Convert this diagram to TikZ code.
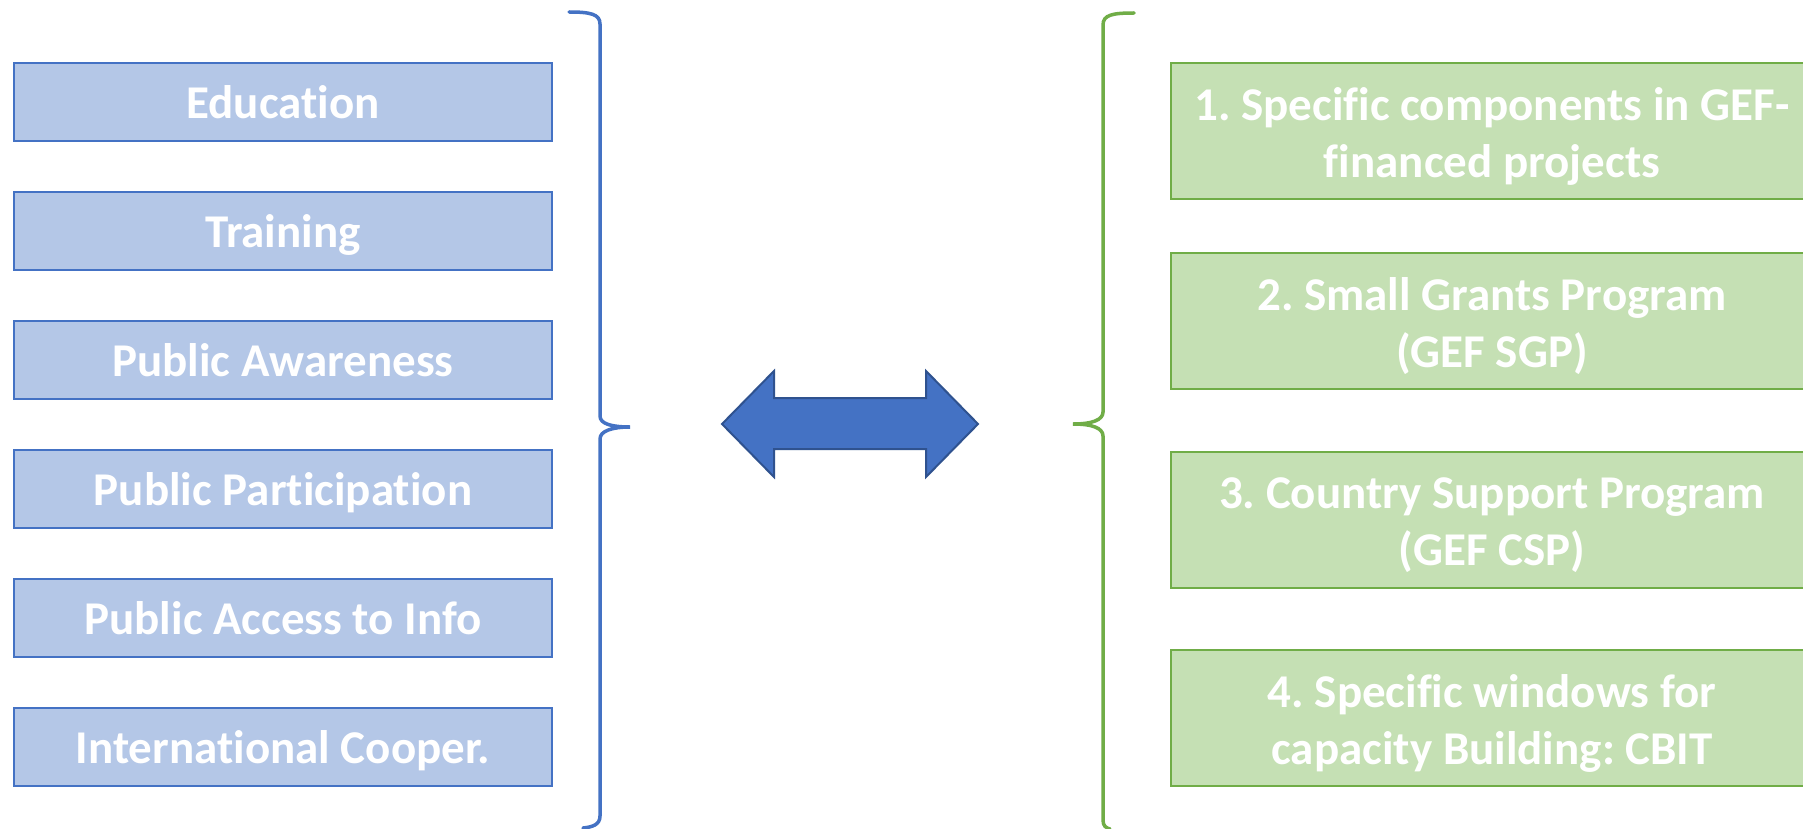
\documentclass[tikz,border=0pt]{standalone}
\usepackage{fontspec}
\setmainfont{Carlito}[Ligatures=NoCommon]
\definecolor{lborder}{HTML}{4472C4}
\definecolor{lfill}{HTML}{B4C7E7}
\definecolor{gborder}{HTML}{70AD47}
\definecolor{gfill}{HTML}{C5E0B4}
\definecolor{arrowedge}{HTML}{2F528F}
\frenchspacing
\begin{document}
\begin{tikzpicture}[x=1pt,y=-1pt,
  boxfont/.style={font=\bfseries\fontsize{47}{57}\selectfont, text=white},
  lbox/.style={boxfont, draw=lborder, fill=lfill, line width=2.5pt, minimum width=538pt, minimum height=78pt, inner sep=0pt, text height=33pt, text depth=0pt},
  rbox/.style={draw=gborder, fill=gfill, line width=2.5pt, minimum width=642pt, minimum height=136pt, inner sep=0pt},
  rtext/.style={boxfont, align=center, inner sep=0pt},
  bracket/.style={line width=3.5pt, line cap=round}]
\path[use as bounding box, fill=white] (0,0) rectangle (1803,829);
\clip (0,0) rectangle (1803,829);
% left boxes
\node[lbox] (edu) at (283,102) {Education};
\node[lbox] (tra) at (283,231) {Training};
\node[lbox] (awa) at (283,360) {Public Awareness};
\node[lbox] (par) at (283,489) {Public Participation};
\node[lbox] (acc) at (283,618) {Public Access to Info};
\node[lbox] (int) at (283,747) {International Cooper.};
% right boxes
\node[rbox] (r1) at (1492,131) {};
\node[rbox] (r2) at (1492,321) {};
\node[rbox] (r3) at (1492,520) {};
\node[rbox] (r4) at (1492,718) {};
\node[rtext] (r1t) at ([yshift=-5pt]r1.center) {1. Specific components in GEF-\\financed projects};
\node[rtext] (r2t) at ([yshift=-5pt]r2.center) {2. Small Grants Program\\(GEF SGP)};
\node[rtext] (r3t) at ([yshift=-5pt]r3.center) {3. Country Support Program\\(GEF CSP)};
\node[rtext] (r4t) at ([yshift=-5pt]r4.center) {4. Specific windows for\\capacity Building: CBIT};
% braces
\draw[bracket, draw=lborder] (569,12) .. controls (590,12) and (600,14) .. (600,24) -- (600,416)
  .. controls (600,424) and (612,427) .. (630,427) .. controls (612,427) and (600,431) .. (600,439)
  -- (600,816) .. controls (600,825) and (592,827) .. (583,828);
\draw[bracket, draw=gborder] (1134,13) .. controls (1112,13) and (1103,15) .. (1103,25) -- (1103,412)
  .. controls (1103,420) and (1092,424) .. (1073,424) .. controls (1092,424) and (1103,428) .. (1103,436)
  -- (1103,820) .. controls (1103,826) and (1106,828) .. (1110,829);
% double arrow
\draw[fill=lborder, draw=arrowedge, line width=2pt, line join=miter]
  (722,424) -- (774,371) -- (774,398) -- (926,398) -- (926,371) -- (978,424)
  -- (926,477) -- (926,449) -- (774,449) -- (774,477) -- cycle;
\end{tikzpicture}
\end{document}
